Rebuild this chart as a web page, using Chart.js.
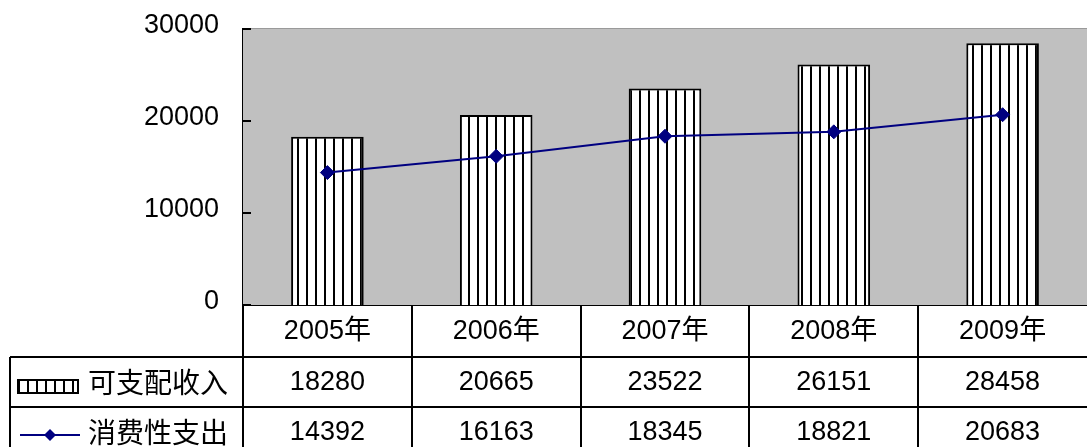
<!DOCTYPE html>
<html>
<head>
<meta charset="utf-8">
<script src="https://cdn.jsdelivr.net/npm/chart.js@4"></script>
<style>
html,body{margin:0;padding:0;background:#fff;overflow:hidden;}
#wrap{width:1087px;height:447px;}
</style>
</head>
<body>
<div id="wrap"><canvas id="c" width="1087" height="447"></canvas></div>
<script>
const categories = ['2005年', '2006年', '2007年', '2008年', '2009年'];
const incomeLabel = '可支配收入';
const spendingLabel = '消费性支出';
const income = [18280, 20665, 23522, 26151, 28458];
const spending = [14392, 16163, 18345, 18821, 20683];
const yTicks = [0, 10000, 20000, 30000];

const NAVY = '#000080';
const NUM_FONT = '27px "Liberation Sans", Arial, "Noto Sans CJK SC", sans-serif';
const CJK_FONT = '28px "Noto Sans CJK SC", sans-serif';

function makeStripe() {
  const p = document.createElement('canvas');
  p.width = 9; p.height = 9;
  const g = p.getContext('2d');
  g.fillStyle = '#fff';
  g.fillRect(0, 0, 9, 9);
  g.fillStyle = '#000';
  g.fillRect(0, 0, 2, 9);
  return p;
}
const stripeCanvas = makeStripe();
const ctx0 = document.getElementById('c').getContext('2d');
const stripe = ctx0.createPattern(stripeCanvas, 'repeat');

const bgPlugin = {
  id: 'bg',
  beforeDatasetsDraw(chart) {
    const a = chart.chartArea, ctx = chart.ctx;
    ctx.save();
    ctx.fillStyle = '#C0C0C0';
    ctx.fillRect(a.left, a.top, a.right - a.left, a.bottom - a.top);
    ctx.strokeStyle = '#9a9a9a';
    ctx.lineWidth = 1;
    ctx.beginPath();
    ctx.moveTo(a.left, a.top - 0.5);
    ctx.lineTo(a.right, a.top - 0.5);
    ctx.stroke();
    ctx.restore();
  }
};

const tablePlugin = {
  id: 'dataTable',
  afterDraw(chart) {
    const a = chart.chartArea, ctx = chart.ctx;
    const xs = chart.scales.x, ys = chart.scales.y;
    const n = categories.length;
    const colW = (a.right - a.left) / n;
    const H = chart.height;
    const row0Top = a.bottom, row1Top = a.bottom + 52, row2Top = a.bottom + 102;
    const tableLeft = 10;
    ctx.save();
    // inward y ticks
    ctx.strokeStyle = '#000';
    ctx.lineWidth = 2;
    yTicks.forEach(v => {
      const y = Math.round(ys.getPixelForValue(v));
      ctx.beginPath();
      ctx.moveTo(a.left, y);
      ctx.lineTo(a.left + 8, y);
      ctx.stroke();
    });
    // table grid
    ctx.beginPath();
    for (let i = 0; i < n; i++) {
      const x = Math.round(a.left + i * colW);
      ctx.moveTo(x, row0Top);
      ctx.lineTo(x, H);
    }
    ctx.moveTo(tableLeft, row1Top); ctx.lineTo(a.right, row1Top);
    ctx.moveTo(tableLeft, row2Top); ctx.lineTo(a.right, row2Top);
    ctx.moveTo(tableLeft, row1Top); ctx.lineTo(tableLeft, H);
    ctx.stroke();
    // text
    ctx.fillStyle = '#000';
    ctx.textAlign = 'center';
    ctx.textBaseline = 'middle';
    for (let i = 0; i < n; i++) {
      const cx = xs.getPixelForValue(i);
      ctx.font = NUM_FONT;
      ctx.fillText(categories[i], cx, row0Top + 27);
      ctx.fillText(String(income[i]), cx, row1Top + 26);
      ctx.fillText(String(spending[i]), cx, row2Top + 26);
    }
    // legend labels
    ctx.textAlign = 'left';
    ctx.font = CJK_FONT;
    ctx.fillText(incomeLabel, 88, row1Top + 25);
    ctx.fillText(spendingLabel, 88, row2Top + 25);
    // legend symbol: stripe box
    ctx.fillStyle = stripe;
    ctx.fillRect(18, row1Top + 23, 60, 13);
    ctx.strokeStyle = '#000';
    ctx.lineWidth = 2;
    ctx.strokeRect(18, row1Top + 23, 60, 13);
    // legend symbol: line + diamond
    ctx.strokeStyle = NAVY;
    ctx.lineWidth = 2;
    ctx.beginPath();
    ctx.moveTo(20, row2Top + 28);
    ctx.lineTo(80, row2Top + 28);
    ctx.stroke();
    ctx.fillStyle = NAVY;
    ctx.beginPath();
    const dx = 50, dy = row2Top + 28, r = 6;
    ctx.moveTo(dx, dy - r); ctx.lineTo(dx + r, dy); ctx.lineTo(dx, dy + r); ctx.lineTo(dx - r, dy);
    ctx.closePath();
    ctx.fill();
    ctx.restore();
  }
};

new Chart(ctx0, {
  data: {
    labels: categories,
    datasets: [
      {
        type: 'line',
        label: spendingLabel,
        data: spending,
        borderColor: NAVY,
        borderWidth: 2,
        pointStyle: 'rectRot',
        pointRadius: 7,
        pointBackgroundColor: NAVY,
        pointBorderColor: NAVY,
        pointBorderWidth: 1,
        tension: 0,
        order: 0
      },
      {
        type: 'bar',
        label: incomeLabel,
        data: income,
        backgroundColor: stripe,
        borderColor: '#000',
        borderWidth: 2,
        categoryPercentage: 1,
        barPercentage: 0.43,
        order: 1
      }
    ]
  },
  options: {
    responsive: false,
    animation: false,
    layout: { autoPadding: false, padding: { left: 0, right: 0, top: 29, bottom: 0 } },
    plugins: { legend: { display: false }, tooltip: { enabled: false } },
    scales: {
      x: {
        type: 'category',
        offset: true,
        grid: { display: false, drawTicks: false },
        border: { display: true, color: '#000', width: 2 },
        ticks: { display: false },
        afterFit(s) { s.height = 142; s.paddingLeft = 0; s.paddingRight = 0; s.paddingTop = 0; s.paddingBottom = 0; }
      },
      y: {
        min: 0,
        max: 30000,
        afterBuildTicks(s) { s.ticks = yTicks.map(v => ({ value: v })); },
        grid: { display: false, drawTicks: false },
        border: { display: true, color: '#000', width: 2 },
        ticks: {
          color: '#000',
          padding: 24,
          labelOffset: -3,
          font: { family: '"Liberation Sans", Arial, sans-serif', size: 27 },
          callback: (v) => String(v)
        },
        afterFit(s) { s.width = 243; s.paddingTop = 0; s.paddingBottom = 0; s.paddingLeft = 0; s.paddingRight = 0; }
      }
    }
  },
  plugins: [bgPlugin, tablePlugin]
});
</script>
</body>
</html>
